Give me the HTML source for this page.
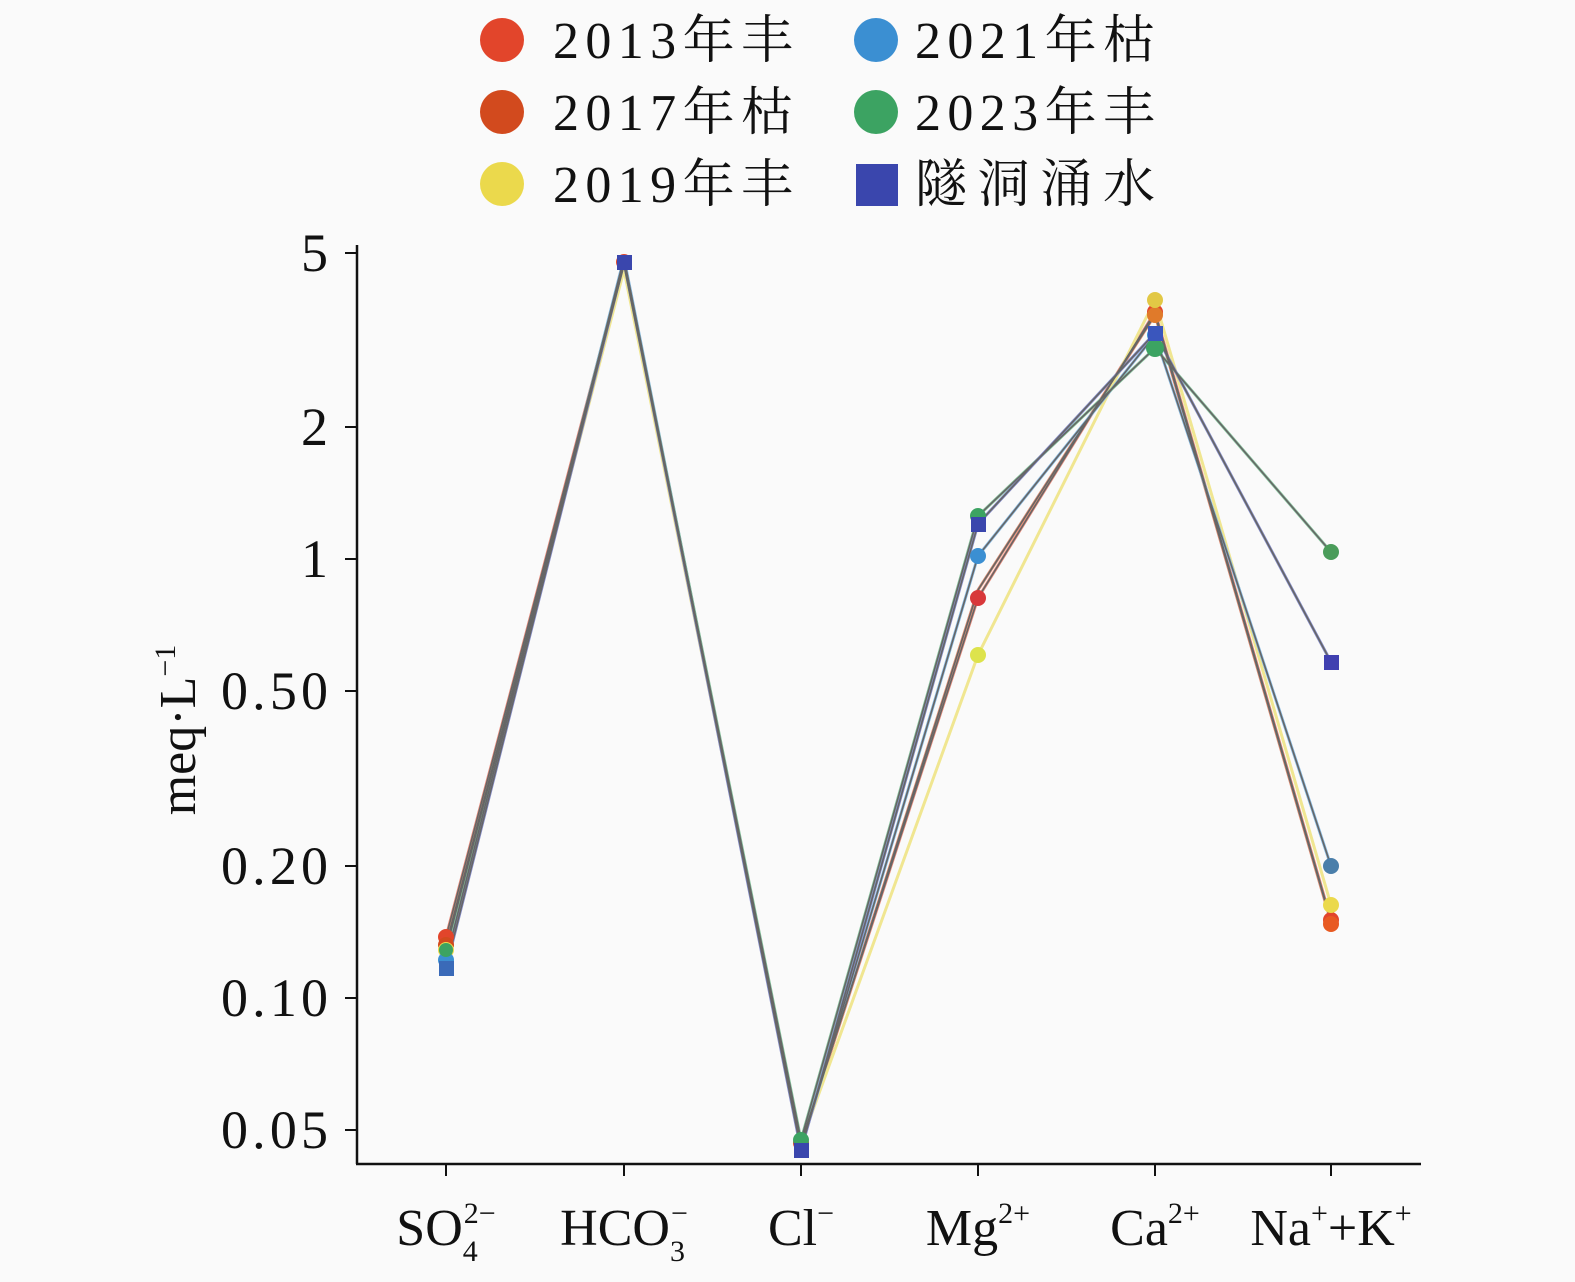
<!DOCTYPE html>
<html><head><meta charset="utf-8"><style>
html,body{margin:0;padding:0;background:#fafafa;}
svg{display:block;}
text{font-family:"Liberation Serif","Noto Serif CJK SC",serif;fill:#111;}
.cj{font-family:"Liberation Serif","Noto Serif CJK SC","Noto Sans CJK SC",serif;}
</style></head><body>
<svg width="1575" height="1282" viewBox="0 0 1575 1282" xmlns="http://www.w3.org/2000/svg">
<rect width="1575" height="1282" fill="#fafafa"/>
<!-- legend -->
<g font-size="52" class="cj">
<circle cx="502" cy="40" r="22" fill="#e2452b"/><text x="553" y="58" class="cj" textLength="240">2013年丰</text>
<circle cx="502" cy="112" r="22" fill="#d24a1e"/><text x="553" y="130" class="cj" textLength="240">2017年枯</text>
<circle cx="502" cy="184" r="22" fill="#ebd94c"/><text x="553" y="202" class="cj" textLength="240">2019年丰</text>
<circle cx="876" cy="40" r="22" fill="#3b8fd2"/><text x="915" y="58" class="cj" textLength="240">2021年枯</text>
<circle cx="876" cy="112" r="22" fill="#3ca362"/><text x="915" y="130" class="cj" textLength="240">2023年丰</text>
<rect x="856" y="164" width="42" height="42" fill="#3a46ad"/><text x="915" y="202" class="cj" textLength="240">隧洞涌水</text>
</g>
<!-- axes -->
<line x1="357" y1="245" x2="357" y2="1164" stroke="#111" stroke-width="2.5"/>
<line x1="356" y1="1164" x2="1421" y2="1164" stroke="#111" stroke-width="2.5"/>
<g stroke="#111" stroke-width="2">
<line x1="345" y1="253" x2="357" y2="253"/><line x1="345" y1="427" x2="357" y2="427"/>
<line x1="345" y1="559" x2="357" y2="559"/><line x1="345" y1="691" x2="357" y2="691"/>
<line x1="345" y1="866" x2="357" y2="866"/><line x1="345" y1="998" x2="357" y2="998"/>
<line x1="345" y1="1130" x2="357" y2="1130"/>
<line x1="446" y1="1164" x2="446" y2="1176"/><line x1="624" y1="1164" x2="624" y2="1176"/>
<line x1="801" y1="1164" x2="801" y2="1176"/><line x1="978" y1="1164" x2="978" y2="1176"/>
<line x1="1155" y1="1164" x2="1155" y2="1176"/><line x1="1331" y1="1164" x2="1331" y2="1176"/>
</g>
<g font-size="54" text-anchor="end">
<text x="328" y="271">5</text><text x="328" y="445">2</text><text x="328" y="577">1</text>
<text x="328" y="709" textLength="107">0.50</text><text x="328" y="884" textLength="107">0.20</text><text x="328" y="1016" textLength="107">0.10</text>
<text x="328" y="1148" textLength="107">0.05</text>
</g>
<text transform="translate(195,730) rotate(-90)" font-size="52" text-anchor="middle">meq·L<tspan font-size="30" dy="-20">−1</tspan></text>
<!-- x labels -->
<g font-size="52" text-anchor="middle">
<text x="446" y="1245">SO<tspan font-size="30" dy="16">4</tspan><tspan font-size="30" dy="-38" dx="-14">2−</tspan></text>
<text x="624" y="1245">HCO<tspan font-size="30" dy="16">3</tspan><tspan font-size="30" dy="-38" dx="-14">−</tspan></text>
<text x="801" y="1245">Cl<tspan font-size="30" dy="-22">−</tspan></text>
<text x="978" y="1245">Mg<tspan font-size="30" dy="-22">2+</tspan></text>
<text x="1155" y="1245">Ca<tspan font-size="30" dy="-22">2+</tspan></text>
<text x="1331" y="1245">Na<tspan font-size="30" dy="-22">+</tspan><tspan dy="22">+K</tspan><tspan font-size="30" dy="-22">+</tspan></text>
</g>
<!-- series colored lines -->
<g fill="none" stroke-width="3" opacity="0.6">
<polyline stroke="#e2452b" points="446,937 624,262 801,1143 978,598 1155,312 1331,920"/>
<polyline stroke="#d24a1e" points="446,945 624,265 801,1145 978,590 1155,315 1331,922"/>
<polyline stroke="#ebd94c" points="446,950 624,270 801,1143 978,655 1155,300 1331,905"/>
<polyline stroke="#3b8fd2" points="446,960 624,258 801,1148 978,556 1155,335 1331,866"/>
<polyline stroke="#3ca362" points="446,950 624,262 801,1140 978,516 1155,348 1331,552"/>
<polyline stroke="#3a46ad" points="446,968 624,262 801,1150 978,524 1155,333 1331,662"/>
</g>
<g fill="none" stroke="#666" stroke-width="1.6">
<polyline points="446,937 624,262 801,1143 978,598 1155,312 1331,920"/>
<polyline points="446,945 624,265 801,1145 978,590 1155,315 1331,922"/>
<polyline points="446,960 624,258 801,1148 978,556 1155,335 1331,866"/>
<polyline points="446,950 624,262 801,1140 978,516 1155,348 1331,552"/>
<polyline points="446,968 624,262 801,1150 978,524 1155,333 1331,662"/>
</g>
<!-- markers -->
<g>
<circle cx="446" cy="937" r="8" fill="#e2452b"/><circle cx="624" cy="262" r="8" fill="#e2452b"/><circle cx="801" cy="1143" r="8" fill="#e2452b"/><circle cx="978" cy="598" r="8" fill="#d8383a"/><circle cx="1155" cy="312" r="8" fill="#e2452b"/><circle cx="1331" cy="920" r="8" fill="#e2452b"/>
<circle cx="446" cy="945" r="8" fill="#d24a1e"/><circle cx="1155" cy="315" r="8" fill="#e07a2a"/><circle cx="1331" cy="924" r="8" fill="#e85a22"/>
<circle cx="446" cy="950" r="8" fill="#ebd94c"/><circle cx="978" cy="655" r="8" fill="#dde34c"/><circle cx="1155" cy="300" r="8" fill="#e2c845"/><circle cx="1331" cy="905" r="8" fill="#ebd94c"/>
<circle cx="446" cy="960" r="8" fill="#3b8fd2"/><circle cx="978" cy="556" r="8" fill="#3b8fd2"/><circle cx="1155" cy="335" r="8" fill="#3b8fd2"/><circle cx="1331" cy="866" r="8" fill="#4a7eaa"/>
<circle cx="446" cy="950" r="7" fill="#3ca362"/><circle cx="801" cy="1140" r="8" fill="#3ca362"/><circle cx="978" cy="516" r="8" fill="#3ca362"/><circle cx="1155" cy="348" r="9" fill="#3ca362"/><circle cx="1331" cy="552" r="8" fill="#4a9c5a"/>
<rect x="439" y="961" width="15" height="15" fill="#3a6ab8"/><rect x="617" y="255" width="15" height="15" fill="#3a46ad"/><rect x="794" y="1143" width="15" height="15" fill="#3a46ad"/><rect x="971" y="517" width="15" height="15" fill="#3a46ad"/><rect x="1148" y="326" width="15" height="15" fill="#3a56bd"/><rect x="1324" y="655" width="15" height="15" fill="#4040b0"/>
</g>
</svg>
</body></html>
